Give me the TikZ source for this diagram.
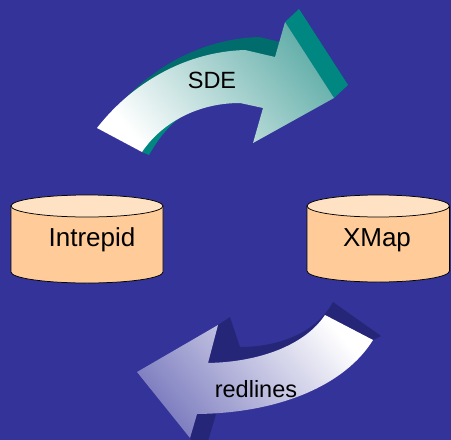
\documentclass[tikz,border=0pt]{standalone}
\usepackage{fontspec}
\setmainfont{Liberation Sans}
\definecolor{bg}{RGB}{51,51,153}
\definecolor{cylbody}{RGB}{255,204,153}
\definecolor{cyltop}{RGB}{255,226,196}
\definecolor{tealdark}{RGB}{0,108,108}
\definecolor{tealside}{RGB}{0,135,130}
\definecolor{tealface}{RGB}{100,175,170}
\definecolor{navyshadow}{RGB}{38,38,120}
\definecolor{lavface}{RGB}{125,125,192}
\tikzset{
  cylline/.style={draw=black, line width=0.75pt},
  arrowlabel/.style={anchor=base, font=\fontsize{23.5}{28}\selectfont, text=black, inner sep=0pt},
  cyllabel/.style={anchor=base, font=\fontsize{26}{30}\selectfont, text=black, inner sep=0pt},
}
\begin{document}
\begin{tikzpicture}[x=1pt,y=-1pt]
\useasboundingbox (0,0) rectangle (451,440);
\fill[bg] (0,0) rectangle (451,440);
\clip (0,0) rectangle (451,440);

% ---- top arrow (SDE) ----
\fill[tealdark, shift={(14,-13)}] (97,128) .. controls (128,88) and (180,52) .. (245,50) -- (275,57) -- (285,22) -- (334,98) -- (253,143) -- (263,108) -- (240,103) .. controls (195,103) and (160,125) .. (142,152) -- cycle;
\fill[tealside] (285,22) -- (299,9) -- (348,85) -- (334,98) -- cycle;
\fill[tealside] (142,152) .. controls (152,136) and (165,124) .. (185,114) .. controls (170,124) and (160,136) .. (149,155) -- cycle;
\shade[top color=tealface, bottom color=white, shading angle=-50] (97,128) .. controls (128,88) and (180,52) .. (245,50) -- (275,57) -- (285,22) -- (334,98) -- (253,143) -- (263,108) -- (240,103) .. controls (195,103) and (160,125) .. (142,152) -- cycle;
\node[arrowlabel] (sde) at (212,88) {SDE};

% ---- bottom arrow (redlines) ----
\fill[navyshadow] (218,325) -- (230,317) -- (240,347) .. controls (275,347) and (315,335) .. (333,302) -- (381,336) -- (373,340) -- (325,315) .. controls (305,345) and (260,362) .. (208,363) -- cycle;
\fill[navyshadow] (197,414) -- (190,438) -- (192,441) -- (208,441) -- (217,411) -- cycle;
\shade[top color=white, bottom color=lavface, shading angle=-50] (137,372) -- (218,325) -- (208,363) .. controls (260,362) and (305,345) .. (325,315) -- (373,340) .. controls (345,385) and (280,413) .. (197,414) -- (190,438) -- cycle;
\node[arrowlabel] (red) at (256,397) {redlines};

% ---- cylinders ----
\path[fill=cylbody, cylline] (11,206) -- (11,272) arc[start angle=180, end angle=0, x radius=76, y radius=11] -- (163,206) -- cycle;
\path[fill=cyltop, cylline] (87,206) ellipse[x radius=76, y radius=11];
\node[cyllabel] (intrepid) at (92,246) {Intrepid};

\path[fill=cylbody, cylline] (307,206) -- (307,271) arc[start angle=180, end angle=0, x radius=71.25, y radius=11] -- (449.5,206) -- cycle;
\path[fill=cyltop, cylline] (378.25,206) ellipse[x radius=71.25, y radius=11];
\node[cyllabel] (xmap) at (377,246) {XMap};
\end{tikzpicture}
\end{document}
